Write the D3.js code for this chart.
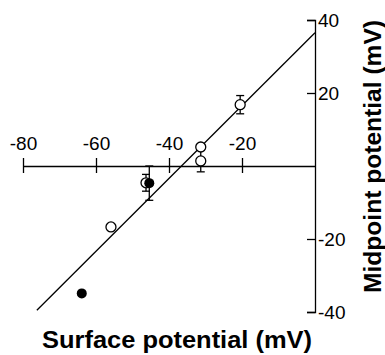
<!DOCTYPE html>
<html>
<head>
<meta charset="utf-8">
<script src="https://cdn.jsdelivr.net/npm/d3@7"></script>
<style>
  body { margin: 0; background: #fff; }
  text { font-family: "Liberation Sans", Arial, sans-serif; fill: #000; }
</style>
</head>
<body>
<div id="chart"></div>
<script>
// surface potential (mV) vs midpoint potential (mV)
const openX = [-20.5, -31.3, -31.3, -46.3, -55.9];
const openY = [16.8, 5.2, 1.4, -4.6, -16.7];
const openErr = [2.5, 0, 3.0, 2.3, 0];

const filledX = [-45.4, -63.9];
const filledY = [-4.7, -34.9];
const filledErr = [4.7, 0];

// fitted line end points
const fitX = [-76.2, 0];
const fitY = [-39.5, 36.5];

const xTicks = [-80, -60, -40, -20];
const yTicks = [40, 20, -20, -40];

const width = 385, height = 355;

const svg = d3.select('#chart')
  .append('svg')
  .attr('width', width)
  .attr('height', height);

const x = d3.scaleLinear().domain([-80, 0]).range([23, 315]);
const y = d3.scaleLinear().domain([-40, 40]).range([312, 20]);

const fmt = d => String(d);

// x axis crossing at y = 0, labels above
const gx = svg.append('g')
  .attr('transform', `translate(0,${y(0)})`)
  .call(d3.axisTop(x).tickValues(xTicks).tickFormat(fmt)
    .tickSizeInner(8).tickSizeOuter(0).tickPadding(8));
gx.selectAll('.tick line').attr('y1', 7);
gx.selectAll('.tick text').attr('font-size', 19).style('font-family', '"Liberation Sans", Arial, sans-serif');
gx.selectAll('path, line').attr('stroke', '#000').attr('stroke-width', 1.3);

// y axis at x = 0, ticks to the left, labels to the right
const gy = svg.append('g')
  .attr('transform', `translate(${x(0)},0)`)
  .call(d3.axisRight(y).tickValues(yTicks).tickFormat(fmt)
    .tickSize(-8).tickPadding(3));
gy.selectAll('.tick text').attr('font-size', 19).style('font-family', '"Liberation Sans", Arial, sans-serif');
gy.selectAll('path, line').attr('stroke', '#000').attr('stroke-width', 1.3);

// fitted line
svg.append('path')
  .datum(fitX.map((d, i) => [d, fitY[i]]))
  .attr('fill', 'none')
  .attr('stroke', '#000')
  .attr('stroke-width', 1.3)
  .attr('d', d3.line().x(d => x(d[0])).y(d => y(d[1])));

// error bars
const bars = openX.map((d, i) => [d, openY[i], openErr[i]])
  .concat(filledX.map((d, i) => [d, filledY[i], filledErr[i]]))
  .filter(d => d[2] > 0);

const eb = svg.append('g').attr('stroke', '#000').attr('stroke-width', 1.3);
bars.forEach(d => {
  const cx = x(d[0]);
  eb.append('line').attr('x1', cx).attr('x2', cx)
    .attr('y1', y(d[1] - d[2])).attr('y2', y(d[1] + d[2]));
  [d[1] - d[2], d[1] + d[2]].forEach(v => {
    eb.append('line').attr('x1', cx - 4).attr('x2', cx + 4)
      .attr('y1', y(v)).attr('y2', y(v));
  });
});

// open circles
svg.append('g').selectAll('circle')
  .data(openX.map((d, i) => [d, openY[i]]))
  .join('circle')
  .attr('cx', d => x(d[0]))
  .attr('cy', d => y(d[1]))
  .attr('r', 5)
  .attr('fill', '#fff')
  .attr('stroke', '#000')
  .attr('stroke-width', 1.3);

// filled circles
svg.append('g').selectAll('circle')
  .data(filledX.map((d, i) => [d, filledY[i]]))
  .join('circle')
  .attr('cx', d => x(d[0]))
  .attr('cy', d => y(d[1]))
  .attr('r', 5)
  .attr('fill', '#000');

// axis titles
svg.append('text')
  .attr('x', 42)
  .attr('y', 348)
  .attr('font-size', 23)
  .attr('font-weight', 'bold')
  .attr('textLength', 270)
  .attr('lengthAdjust', 'spacingAndGlyphs')
  .text('Surface potential (mV)');

svg.append('text')
  .attr('transform', 'translate(381,293) rotate(-90)')
  .attr('font-size', 23)
  .attr('font-weight', 'bold')
  .attr('textLength', 273)
  .attr('lengthAdjust', 'spacingAndGlyphs')
  .text('Midpoint potential (mV)');
</script>
</body>
</html>
